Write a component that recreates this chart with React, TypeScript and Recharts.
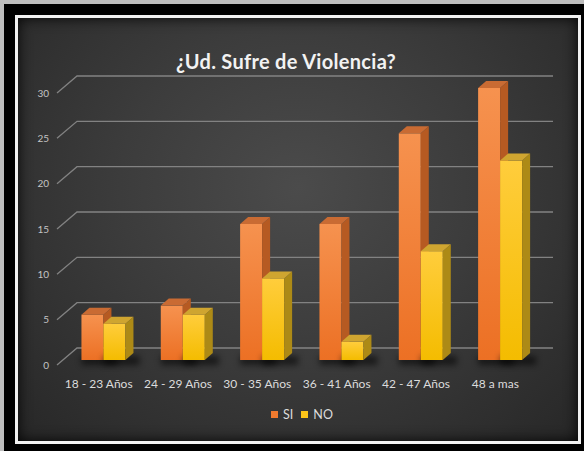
import React from 'react';
import { BarChart, Bar, XAxis, YAxis, CartesianGrid, Legend } from 'recharts';

const categories = ['18 - 23 Años', '24 - 29 Años', '30 - 35 Años', '36 - 41 Años', '42 - 47 Años', '48 a mas'];
const siValues = [5, 6, 15, 15, 25, 30];
const noValues = [4, 5, 9, 2, 12, 22];
const yTicks = [0, 5, 10, 15, 20, 25, 30];

const data = categories.map((name, i) => ({ name, SI: siValues[i], NO: noValues[i] }));

const FONT = 'Lato, "Open Sans", sans-serif';
const DX = 8;
const DY = 7;

// colours for the 3d faces of each series
const siColors = { light: '#f6924f', dark: '#ec7024', side: '#b65a22', top: '#c96b33', legend: '#f07a2e' };
const noColors = { light: '#ffcd3c', dark: '#f4bc00', side: '#ad8a16', top: '#cfa530', legend: '#fcc419' };

const bar3d = (c: typeof siColors, gradId: string) => (props: any) => {
  const { x, y, width, height } = props;
  if (!width || height == null) return <g />;
  const base = y + height;
  return (
    <g>
      <rect x={x} y={base - 4} width={width + DX + 6} height={9} fill="#000" opacity={0.55} filter="url(#shadowBlur)" />
      <rect x={x} y={y} width={width} height={height} fill={`url(#${gradId})`} />
      <polygon
        points={`${x + width},${y} ${x + width + DX},${y - DY} ${x + width + DX},${base - DY} ${x + width},${base}`}
        fill={c.side}
      />
      <polygon points={`${x},${y} ${x + DX},${y - DY} ${x + width + DX},${y - DY} ${x + width},${y}`} fill={c.top} />
    </g>
  );
};

// back wall gridline with the diagonal leading from the front tick
const gridLine = (props: any) => {
  const { x1, x2, y1 } = props;
  return (
    <polyline
      key={`g-${y1}`}
      points={`${x1 - 7},${y1 + 5} ${x1 + 13},${y1 - 12} ${x2 + 13},${y1 - 12}`}
      fill="none"
      stroke="#828282"
      strokeWidth={1.3}
    />
  );
};

const YTick = (props: any) => {
  const { x, y, payload } = props;
  return (
    <text x={x - 7} y={y + 5} dy="0.35em" textAnchor="end" fill="#c4c4c4" fontSize={10} fontFamily={FONT}>
      {payload.value}
    </text>
  );
};

const XTick = (props: any) => {
  const { x, y, payload } = props;
  return (
    <text x={x - 5} y={y + 16} dy="0.35em" textAnchor="middle" fill="#dcdcdc" fontSize={12} fontFamily={FONT}>
      {payload.value}
    </text>
  );
};

const legendItems = [
  { label: 'SI', color: siColors.legend },
  { label: 'NO', color: noColors.legend },
];

const LegendContent = () => (
  <div style={{ display: 'flex', justifyContent: 'center', alignItems: 'center', fontFamily: FONT, fontSize: 12.5, color: '#dcdcdc' }}>
    {legendItems.map((item, i) => (
      <span key={item.label} style={{ display: 'flex', alignItems: 'center', marginLeft: i ? 8 : 0 }}>
        <span style={{ width: 7, height: 7, background: item.color, marginRight: 5, display: 'inline-block' }} />
        {item.label}
      </span>
    ))}
  </div>
);

export default function App() {
  return (
    <div
      style={{
        position: 'absolute',
        left: 0,
        top: 0,
        width: 584,
        height: 451,
        background: '#000',
        borderTop: '4px solid #bdbdbd',
        borderLeft: '4px solid #bdbdbd',
        boxSizing: 'border-box',
      }}
    >
      <div
        style={{
          position: 'absolute',
          left: 11,
          top: 11,
          width: 566,
          height: 429,
          border: '3px solid #f2f2f2',
          boxSizing: 'border-box',
        }}
      />
      <div
        style={{
          position: 'absolute',
          left: 14,
          top: 14,
          width: 560,
          height: 423,
          background: 'radial-gradient(ellipse at 50% 40%, #4b4b4b 0%, #3c3c3c 45%, #272727 100%)',
          boxShadow: 'inset 0 0 14px rgba(0,0,0,0.9)',
        }}
      >
        <div
          style={{
            position: 'absolute',
            left: 0,
            width: 536,
            top: 31,
            textAlign: 'center',
            fontFamily: FONT,
            fontWeight: 700,
            fontSize: 20,
            color: '#f2f2f2',
            letterSpacing: 0.3,
          }}
        >
          ¿Ud. Sufre de Violencia?
        </div>
        <BarChart
          width={560}
          height={423}
          data={data}
          margin={{ top: 70, right: 38, left: 0, bottom: 51 }}
          barGap={0}
          barCategoryGap="22%"
        >
          <defs>
            <linearGradient id="siGrad" x1="0" y1="0" x2="0" y2="1">
              <stop offset="0%" stopColor={siColors.light} />
              <stop offset="100%" stopColor={siColors.dark} />
            </linearGradient>
            <linearGradient id="noGrad" x1="0" y1="0" x2="0" y2="1">
              <stop offset="0%" stopColor={noColors.light} />
              <stop offset="100%" stopColor={noColors.dark} />
            </linearGradient>
            <filter id="shadowBlur" x="-50%" y="-100%" width="200%" height="300%">
              <feGaussianBlur stdDeviation="3" />
            </filter>
          </defs>
          <CartesianGrid vertical={false} horizontal={gridLine} />
          <XAxis dataKey="name" axisLine={false} tickLine={false} tick={<XTick />} interval={0} height={30} />
          <YAxis
            width={46}
            domain={[0, 30]}
            ticks={yTicks}
            axisLine={false}
            tickLine={false}
            tick={<YTick />}
          />
          <Legend verticalAlign="middle" wrapperStyle={{ left: 4, width: 560, top: 389 }} content={<LegendContent />} />
          <Bar dataKey="SI" fill={siColors.legend} shape={bar3d(siColors, 'siGrad')} isAnimationActive={false} />
          <Bar dataKey="NO" fill={noColors.legend} shape={bar3d(noColors, 'noGrad')} isAnimationActive={false} />
        </BarChart>
      </div>
    </div>
  );
}
